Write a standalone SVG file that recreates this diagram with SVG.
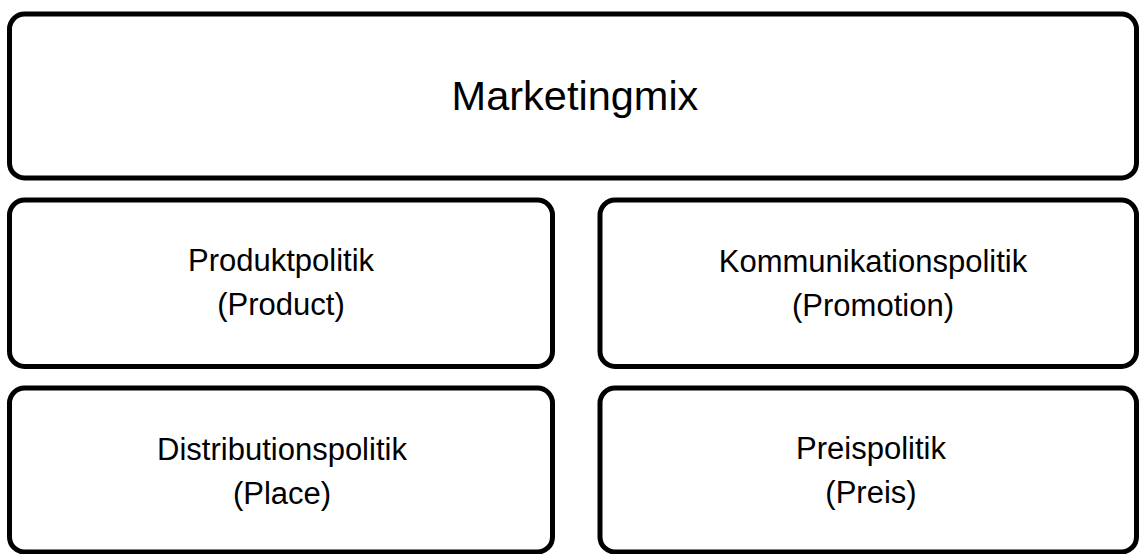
<svg xmlns="http://www.w3.org/2000/svg" width="1139" height="554" viewBox="0 0 1139 554">
<style>
.box{fill:#fff;stroke:#000;stroke-width:5}
.t{font-family:"Liberation Sans",Arial,sans-serif;fill:#000;text-anchor:middle}
.big{font-size:41.5px}
.sm{font-size:31px}
</style>
<rect width="1139" height="554" fill="#fff"/>
<g id="connectors"></g>
<g id="marketingmix">
<rect class="box" x="9.5" y="14" width="1127" height="164" rx="15" ry="15"/>
<text class="t big" x="575" y="110">Marketingmix</text>
</g>
<g id="produktpolitik">
<rect class="box" x="9.5" y="200" width="543" height="166.5" rx="15" ry="15"/>
<text class="t sm" x="281" y="271">Produktpolitik</text>
<text class="t sm" x="281" y="315">(Product)</text>
</g>
<g id="kommunikationspolitik">
<rect class="box" x="600" y="200" width="536.5" height="166.5" rx="15" ry="15"/>
<text class="t sm" x="873" y="272">Kommunikationspolitik</text>
<text class="t sm" x="873" y="316">(Promotion)</text>
</g>
<g id="distributionspolitik">
<rect class="box" x="9.5" y="388" width="543" height="164" rx="15" ry="15"/>
<text class="t sm" x="282" y="460">Distributionspolitik</text>
<text class="t sm" x="282" y="504">(Place)</text>
</g>
<g id="preispolitik">
<rect class="box" x="600" y="388" width="536.5" height="164" rx="15" ry="15"/>
<text class="t sm" x="871" y="459">Preispolitik</text>
<text class="t sm" x="871" y="503">(Preis)</text>
</g>
</svg>
